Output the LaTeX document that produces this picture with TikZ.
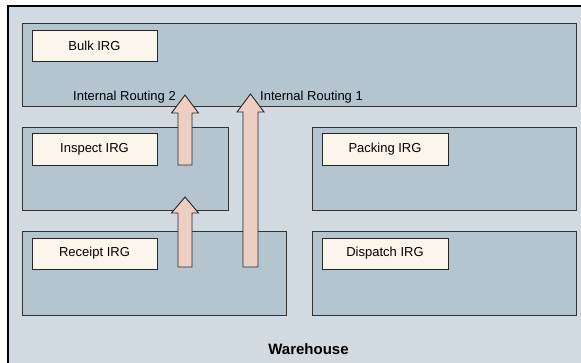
\documentclass[tikz,border=0pt]{standalone}
\usepackage{fontspec}
\setmainfont{Liberation Sans}
\begin{document}
\begin{tikzpicture}[x=1pt,y=-1pt,
  zone/.style={draw=black!80,line width=0.9pt,fill=zonefill},
  irg/.style={draw=black!85,line width=0.9pt,fill=irgfill,inner sep=0pt,
    font=\fontsize{13}{15}\selectfont},
  blockarrow/.style={draw=black!85,line width=0.9pt,fill=arrowfill,line join=miter},
  lbl/.style={font=\fontsize{13}{15}\selectfont,inner sep=0pt,anchor=west}]
\definecolor{outerfill}{HTML}{D1D9E1}
\definecolor{zonefill}{HTML}{B4C5CF}
\definecolor{irgfill}{HTML}{FAF6EC}
\definecolor{arrowfill}{HTML}{ECCFC2}
\useasboundingbox (0,0) rectangle (581,362);
\begin{scope}
\clip (0,0) rectangle (581,362);
\draw[draw=black,line width=1.2pt,fill=outerfill] (8,6) rectangle (590,372);
\end{scope}
% zones
\draw[zone] (22,23) rectangle (576,106);
\draw[zone] (22,127) rectangle (228,210);
\draw[zone] (312,127) rectangle (576,210);
\draw[zone] (22,231) rectangle (286,315);
\draw[zone] (312,231) rectangle (576,315);
% IRG labels
\node[irg,minimum width=125pt,minimum height=31pt] (bulkirg) at (94.5,45.5) {Bulk IRG};
\node[irg,minimum width=125pt,minimum height=32pt] (inspectirg) at (94.5,149) {Inspect IRG};
\node[irg,minimum width=126pt,minimum height=32pt] (packingirg) at (385,149) {Packing IRG};
\node[irg,minimum width=125pt,minimum height=31pt] (receiptirg) at (94.5,253.5) {Receipt IRG};
\node[irg,minimum width=126pt,minimum height=31pt] (dispatchirg) at (385,253.5) {Dispatch IRG};
% block arrows
\coordinate (a1) at (185,267);
\coordinate (a1t) at (185,197);
\draw[blockarrow] ([xshift=-7pt]a1) -- ([xshift=-7pt]a1 |- 0,213) -- ([xshift=-13.5pt]a1 |- 0,213)
  -- (a1t) -- ([xshift=13.5pt]a1 |- 0,213) -- ([xshift=7pt]a1 |- 0,213) -- ([xshift=7pt]a1) -- cycle;
\coordinate (a2) at (185,165);
\coordinate (a2t) at (185,95);
\draw[blockarrow] ([xshift=-7pt]a2) -- ([xshift=-7pt]a2 |- 0,113) -- ([xshift=-13.5pt]a2 |- 0,113)
  -- (a2t) -- ([xshift=13.5pt]a2 |- 0,113) -- ([xshift=7pt]a2 |- 0,113) -- ([xshift=7pt]a2) -- cycle;
\coordinate (a3) at (250.5,267);
\coordinate (a3t) at (250.5,94);
\draw[blockarrow] ([xshift=-7.5pt]a3) -- ([xshift=-7.5pt]a3 |- 0,112) -- ([xshift=-13.5pt]a3 |- 0,112)
  -- (a3t) -- ([xshift=13.5pt]a3 |- 0,112) -- ([xshift=7.5pt]a3 |- 0,112) -- ([xshift=7.5pt]a3) -- cycle;
% labels
\node[lbl] (ir2) at (73,97) {Internal Routing 2};
\node[lbl] (ir1) at (260,97) {Internal Routing 1};
\node[font=\fontsize{15}{17}\bfseries,inner sep=0pt] (wh) at (308.5,349) {Warehouse};
\end{tikzpicture}
\end{document}
